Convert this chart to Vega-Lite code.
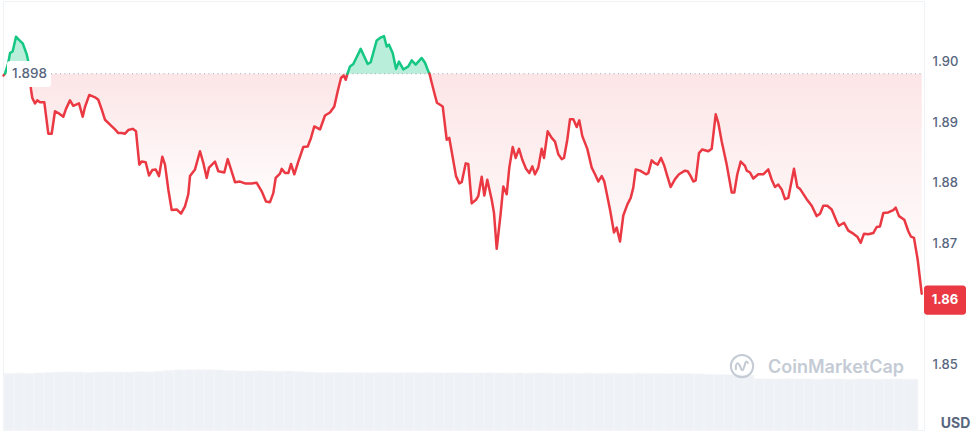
{
  "$schema": "https://vega.github.io/schema/vega-lite/v6.json",
  "width": 921,
  "height": 429,
  "autosize": {"type": "none"},
  "padding": {"left": 3, "top": 1, "right": 55, "bottom": 4},
  "background": "white",
  "config": {"view": {"stroke": "#eff2f5", "strokeWidth": 1}, "font": "Inter"},
  "datasets": {
    "price": [
      {"t":3.5,"p":1.8977,"seg":"d0","dir":"down"},{"t":5,"p":1.898,"seg":"d0","dir":"down"},
      {"t":5,"p":1.898,"seg":"u1","dir":"up"},{"t":8.3,"p":1.8998,"seg":"u1","dir":"up"},{"t":10,"p":1.9014,"seg":"u1","dir":"up"},{"t":12.7,"p":1.9017,"seg":"u1","dir":"up"},{"t":16,"p":1.9041,"seg":"u1","dir":"up"},{"t":19,"p":1.9036,"seg":"u1","dir":"up"},{"t":22.7,"p":1.903,"seg":"u1","dir":"up"},{"t":25,"p":1.902,"seg":"u1","dir":"up"},{"t":26.7,"p":1.9012,"seg":"u1","dir":"up"},{"t":28.3,"p":1.9,"seg":"u1","dir":"up"},{"t":29.5,"p":1.898,"seg":"u1","dir":"up"},
      {"t":29.5,"p":1.898,"seg":"d1","dir":"down"},{"t":31,"p":1.8954,"seg":"d1","dir":"down"},{"t":32.3,"p":1.894,"seg":"d1","dir":"down"},{"t":35,"p":1.8931,"seg":"d1","dir":"down"},{"t":37.3,"p":1.8936,"seg":"d1","dir":"down"},{"t":40,"p":1.8933,"seg":"d1","dir":"down"},{"t":44.3,"p":1.8933,"seg":"d1","dir":"down"},{"t":48.3,"p":1.8881,"seg":"d1","dir":"down"},{"t":51.7,"p":1.8881,"seg":"d1","dir":"down"},{"t":55,"p":1.8918,"seg":"d1","dir":"down"},{"t":58.3,"p":1.8915,"seg":"d1","dir":"down"},{"t":63.3,"p":1.8909,"seg":"d1","dir":"down"},{"t":66,"p":1.8922,"seg":"d1","dir":"down"},{"t":70,"p":1.8936,"seg":"d1","dir":"down"},{"t":73.3,"p":1.8927,"seg":"d1","dir":"down"},{"t":79,"p":1.8931,"seg":"d1","dir":"down"},{"t":82.7,"p":1.8909,"seg":"d1","dir":"down"},{"t":85,"p":1.8925,"seg":"d1","dir":"down"},{"t":89.3,"p":1.8945,"seg":"d1","dir":"down"},{"t":95,"p":1.8941,"seg":"d1","dir":"down"},{"t":98.3,"p":1.8937,"seg":"d1","dir":"down"},{"t":101.7,"p":1.8921,"seg":"d1","dir":"down"},{"t":105,"p":1.8904,"seg":"d1","dir":"down"},{"t":110,"p":1.8896,"seg":"d1","dir":"down"},{"t":115,"p":1.8888,"seg":"d1","dir":"down"},{"t":118.3,"p":1.8882,"seg":"d1","dir":"down"},{"t":121.7,"p":1.8882,"seg":"d1","dir":"down"},{"t":125,"p":1.8881,"seg":"d1","dir":"down"},{"t":128.3,"p":1.8887,"seg":"d1","dir":"down"},{"t":132.7,"p":1.8889,"seg":"d1","dir":"down"},{"t":136,"p":1.8885,"seg":"d1","dir":"down"},{"t":139.3,"p":1.883,"seg":"d1","dir":"down"},{"t":141.7,"p":1.8835,"seg":"d1","dir":"down"},{"t":145.7,"p":1.8834,"seg":"d1","dir":"down"},{"t":149,"p":1.8812,"seg":"d1","dir":"down"},{"t":152.3,"p":1.8821,"seg":"d1","dir":"down"},{"t":155.7,"p":1.8822,"seg":"d1","dir":"down"},{"t":159,"p":1.8811,"seg":"d1","dir":"down"},{"t":162.3,"p":1.8843,"seg":"d1","dir":"down"},{"t":165,"p":1.883,"seg":"d1","dir":"down"},{"t":168.3,"p":1.8789,"seg":"d1","dir":"down"},{"t":171.7,"p":1.8755,"seg":"d1","dir":"down"},{"t":176.7,"p":1.8756,"seg":"d1","dir":"down"},{"t":181,"p":1.8749,"seg":"d1","dir":"down"},{"t":185,"p":1.8761,"seg":"d1","dir":"down"},{"t":188.3,"p":1.8781,"seg":"d1","dir":"down"},{"t":190,"p":1.8811,"seg":"d1","dir":"down"},{"t":195,"p":1.8822,"seg":"d1","dir":"down"},{"t":200,"p":1.8852,"seg":"d1","dir":"down"},{"t":203.3,"p":1.8833,"seg":"d1","dir":"down"},{"t":206.7,"p":1.8808,"seg":"d1","dir":"down"},{"t":209,"p":1.8825,"seg":"d1","dir":"down"},{"t":215,"p":1.8835,"seg":"d1","dir":"down"},{"t":218.3,"p":1.8819,"seg":"d1","dir":"down"},{"t":224.3,"p":1.8817,"seg":"d1","dir":"down"},{"t":227.7,"p":1.8839,"seg":"d1","dir":"down"},{"t":231,"p":1.8822,"seg":"d1","dir":"down"},{"t":235,"p":1.8801,"seg":"d1","dir":"down"},{"t":240,"p":1.8802,"seg":"d1","dir":"down"},{"t":245,"p":1.8799,"seg":"d1","dir":"down"},{"t":251.7,"p":1.8799,"seg":"d1","dir":"down"},{"t":256.7,"p":1.88,"seg":"d1","dir":"down"},{"t":261.7,"p":1.8786,"seg":"d1","dir":"down"},{"t":266,"p":1.8769,"seg":"d1","dir":"down"},{"t":270,"p":1.8768,"seg":"d1","dir":"down"},{"t":273.3,"p":1.8783,"seg":"d1","dir":"down"},{"t":275.7,"p":1.8808,"seg":"d1","dir":"down"},{"t":280,"p":1.8815,"seg":"d1","dir":"down"},{"t":281.7,"p":1.8823,"seg":"d1","dir":"down"},{"t":285,"p":1.8816,"seg":"d1","dir":"down"},{"t":288.3,"p":1.8816,"seg":"d1","dir":"down"},{"t":291,"p":1.8831,"seg":"d1","dir":"down"},{"t":294.3,"p":1.8814,"seg":"d1","dir":"down"},{"t":298.3,"p":1.8835,"seg":"d1","dir":"down"},{"t":303.3,"p":1.8859,"seg":"d1","dir":"down"},{"t":307.7,"p":1.886,"seg":"d1","dir":"down"},{"t":311,"p":1.8874,"seg":"d1","dir":"down"},{"t":314.3,"p":1.8893,"seg":"d1","dir":"down"},{"t":320,"p":1.8888,"seg":"d1","dir":"down"},{"t":325,"p":1.8911,"seg":"d1","dir":"down"},{"t":330,"p":1.8916,"seg":"d1","dir":"down"},{"t":334.3,"p":1.8926,"seg":"d1","dir":"down"},{"t":337.7,"p":1.8951,"seg":"d1","dir":"down"},{"t":341,"p":1.8973,"seg":"d1","dir":"down"},{"t":343.7,"p":1.8977,"seg":"d1","dir":"down"},{"t":345.7,"p":1.897,"seg":"d1","dir":"down"},{"t":347.5,"p":1.898,"seg":"d1","dir":"down"},
      {"t":347.5,"p":1.898,"seg":"u2","dir":"up"},{"t":350,"p":1.8992,"seg":"u2","dir":"up"},{"t":353.3,"p":1.8996,"seg":"u2","dir":"up"},{"t":360.7,"p":1.9021,"seg":"u2","dir":"up"},{"t":367.7,"p":1.8996,"seg":"u2","dir":"up"},{"t":370.7,"p":1.8999,"seg":"u2","dir":"up"},{"t":376.7,"p":1.9035,"seg":"u2","dir":"up"},{"t":380,"p":1.9039,"seg":"u2","dir":"up"},{"t":384,"p":1.9042,"seg":"u2","dir":"up"},{"t":386.7,"p":1.9025,"seg":"u2","dir":"up"},{"t":389,"p":1.9028,"seg":"u2","dir":"up"},{"t":392.7,"p":1.9014,"seg":"u2","dir":"up"},{"t":396,"p":1.8988,"seg":"u2","dir":"up"},{"t":399,"p":1.9,"seg":"u2","dir":"up"},{"t":403.3,"p":1.8987,"seg":"u2","dir":"up"},{"t":408.3,"p":1.8992,"seg":"u2","dir":"up"},{"t":411.7,"p":1.9002,"seg":"u2","dir":"up"},{"t":415.7,"p":1.8995,"seg":"u2","dir":"up"},{"t":421.7,"p":1.9006,"seg":"u2","dir":"up"},{"t":425,"p":1.8998,"seg":"u2","dir":"up"},{"t":428.5,"p":1.8983,"seg":"u2","dir":"up"},{"t":429.5,"p":1.898,"seg":"u2","dir":"up"},
      {"t":429.5,"p":1.898,"seg":"d2","dir":"down"},{"t":431.7,"p":1.8965,"seg":"d2","dir":"down"},{"t":435,"p":1.8944,"seg":"d2","dir":"down"},{"t":437,"p":1.8932,"seg":"d2","dir":"down"},{"t":442.7,"p":1.8926,"seg":"d2","dir":"down"},{"t":446.7,"p":1.8871,"seg":"d2","dir":"down"},{"t":449.3,"p":1.8874,"seg":"d2","dir":"down"},{"t":456,"p":1.8811,"seg":"d2","dir":"down"},{"t":459.3,"p":1.8799,"seg":"d2","dir":"down"},{"t":461.7,"p":1.8801,"seg":"d2","dir":"down"},{"t":465.7,"p":1.8832,"seg":"d2","dir":"down"},{"t":468.3,"p":1.8831,"seg":"d2","dir":"down"},{"t":471.7,"p":1.8766,"seg":"d2","dir":"down"},{"t":476,"p":1.8772,"seg":"d2","dir":"down"},{"t":478.3,"p":1.8778,"seg":"d2","dir":"down"},{"t":481.7,"p":1.881,"seg":"d2","dir":"down"},{"t":484.3,"p":1.8779,"seg":"d2","dir":"down"},{"t":487.3,"p":1.8805,"seg":"d2","dir":"down"},{"t":491.7,"p":1.8772,"seg":"d2","dir":"down"},{"t":494,"p":1.875,"seg":"d2","dir":"down"},{"t":496.7,"p":1.8691,"seg":"d2","dir":"down"},{"t":500.7,"p":1.875,"seg":"d2","dir":"down"},{"t":503.3,"p":1.8794,"seg":"d2","dir":"down"},{"t":506.7,"p":1.8781,"seg":"d2","dir":"down"},{"t":509.3,"p":1.8825,"seg":"d2","dir":"down"},{"t":512.7,"p":1.8859,"seg":"d2","dir":"down"},{"t":515.7,"p":1.8841,"seg":"d2","dir":"down"},{"t":519,"p":1.8856,"seg":"d2","dir":"down"},{"t":522.3,"p":1.8838,"seg":"d2","dir":"down"},{"t":526,"p":1.8823,"seg":"d2","dir":"down"},{"t":529.3,"p":1.8816,"seg":"d2","dir":"down"},{"t":532.3,"p":1.8827,"seg":"d2","dir":"down"},{"t":535,"p":1.8814,"seg":"d2","dir":"down"},{"t":538.3,"p":1.8825,"seg":"d2","dir":"down"},{"t":541.7,"p":1.8856,"seg":"d2","dir":"down"},{"t":544,"p":1.8841,"seg":"d2","dir":"down"},{"t":547.7,"p":1.8885,"seg":"d2","dir":"down"},{"t":551.7,"p":1.8874,"seg":"d2","dir":"down"},{"t":555,"p":1.8868,"seg":"d2","dir":"down"},{"t":558.3,"p":1.8847,"seg":"d2","dir":"down"},{"t":561.7,"p":1.8839,"seg":"d2","dir":"down"},{"t":564,"p":1.8841,"seg":"d2","dir":"down"},{"t":567.3,"p":1.8871,"seg":"d2","dir":"down"},{"t":570,"p":1.8905,"seg":"d2","dir":"down"},{"t":573.3,"p":1.8905,"seg":"d2","dir":"down"},{"t":576.7,"p":1.8892,"seg":"d2","dir":"down"},{"t":579.3,"p":1.8903,"seg":"d2","dir":"down"},{"t":582.3,"p":1.8877,"seg":"d2","dir":"down"},{"t":587.3,"p":1.8856,"seg":"d2","dir":"down"},{"t":591.7,"p":1.8825,"seg":"d2","dir":"down"},{"t":595,"p":1.8814,"seg":"d2","dir":"down"},{"t":598.3,"p":1.8802,"seg":"d2","dir":"down"},{"t":601.7,"p":1.8811,"seg":"d2","dir":"down"},{"t":604.3,"p":1.8802,"seg":"d2","dir":"down"},{"t":610,"p":1.8756,"seg":"d2","dir":"down"},{"t":614,"p":1.8718,"seg":"d2","dir":"down"},{"t":616.7,"p":1.8726,"seg":"d2","dir":"down"},{"t":620,"p":1.8703,"seg":"d2","dir":"down"},{"t":623.3,"p":1.8746,"seg":"d2","dir":"down"},{"t":627.3,"p":1.8764,"seg":"d2","dir":"down"},{"t":630.7,"p":1.8775,"seg":"d2","dir":"down"},{"t":633.3,"p":1.8792,"seg":"d2","dir":"down"},{"t":635.7,"p":1.8822,"seg":"d2","dir":"down"},{"t":640,"p":1.882,"seg":"d2","dir":"down"},{"t":646,"p":1.8814,"seg":"d2","dir":"down"},{"t":648.3,"p":1.8816,"seg":"d2","dir":"down"},{"t":651.7,"p":1.8837,"seg":"d2","dir":"down"},{"t":654.3,"p":1.8833,"seg":"d2","dir":"down"},{"t":657.7,"p":1.883,"seg":"d2","dir":"down"},{"t":661,"p":1.8841,"seg":"d2","dir":"down"},{"t":664.3,"p":1.8828,"seg":"d2","dir":"down"},{"t":667.3,"p":1.8811,"seg":"d2","dir":"down"},{"t":670.7,"p":1.8793,"seg":"d2","dir":"down"},{"t":675,"p":1.8806,"seg":"d2","dir":"down"},{"t":679,"p":1.8814,"seg":"d2","dir":"down"},{"t":685,"p":1.882,"seg":"d2","dir":"down"},{"t":687.7,"p":1.8819,"seg":"d2","dir":"down"},{"t":690.7,"p":1.8811,"seg":"d2","dir":"down"},{"t":693.3,"p":1.8802,"seg":"d2","dir":"down"},{"t":695.7,"p":1.8804,"seg":"d2","dir":"down"},{"t":699,"p":1.8849,"seg":"d2","dir":"down"},{"t":702.3,"p":1.8855,"seg":"d2","dir":"down"},{"t":708.3,"p":1.8852,"seg":"d2","dir":"down"},{"t":711.7,"p":1.8856,"seg":"d2","dir":"down"},{"t":715.7,"p":1.8913,"seg":"d2","dir":"down"},{"t":718.3,"p":1.8899,"seg":"d2","dir":"down"},{"t":721.7,"p":1.8868,"seg":"d2","dir":"down"},{"t":726.7,"p":1.883,"seg":"d2","dir":"down"},{"t":731.7,"p":1.8784,"seg":"d2","dir":"down"},{"t":734.3,"p":1.8784,"seg":"d2","dir":"down"},{"t":737.3,"p":1.8814,"seg":"d2","dir":"down"},{"t":740.7,"p":1.8835,"seg":"d2","dir":"down"},{"t":745,"p":1.8828,"seg":"d2","dir":"down"},{"t":746.7,"p":1.882,"seg":"d2","dir":"down"},{"t":750,"p":1.8817,"seg":"d2","dir":"down"},{"t":753.3,"p":1.8807,"seg":"d2","dir":"down"},{"t":758.3,"p":1.8814,"seg":"d2","dir":"down"},{"t":763.3,"p":1.8814,"seg":"d2","dir":"down"},{"t":768.3,"p":1.8822,"seg":"d2","dir":"down"},{"t":771.7,"p":1.8805,"seg":"d2","dir":"down"},{"t":775,"p":1.8793,"seg":"d2","dir":"down"},{"t":778.3,"p":1.8797,"seg":"d2","dir":"down"},{"t":781.7,"p":1.8789,"seg":"d2","dir":"down"},{"t":785,"p":1.8773,"seg":"d2","dir":"down"},{"t":788.3,"p":1.8775,"seg":"d2","dir":"down"},{"t":794,"p":1.8823,"seg":"d2","dir":"down"},{"t":797.3,"p":1.8793,"seg":"d2","dir":"down"},{"t":800,"p":1.879,"seg":"d2","dir":"down"},{"t":806.7,"p":1.8773,"seg":"d2","dir":"down"},{"t":811.7,"p":1.8762,"seg":"d2","dir":"down"},{"t":816.7,"p":1.8745,"seg":"d2","dir":"down"},{"t":820,"p":1.8749,"seg":"d2","dir":"down"},{"t":823.3,"p":1.8762,"seg":"d2","dir":"down"},{"t":827.3,"p":1.8762,"seg":"d2","dir":"down"},{"t":831.7,"p":1.8756,"seg":"d2","dir":"down"},{"t":836.7,"p":1.8736,"seg":"d2","dir":"down"},{"t":839,"p":1.8729,"seg":"d2","dir":"down"},{"t":844,"p":1.8734,"seg":"d2","dir":"down"},{"t":848.3,"p":1.8721,"seg":"d2","dir":"down"},{"t":853.3,"p":1.8716,"seg":"d2","dir":"down"},{"t":857.3,"p":1.8711,"seg":"d2","dir":"down"},{"t":860.7,"p":1.8701,"seg":"d2","dir":"down"},{"t":864,"p":1.8716,"seg":"d2","dir":"down"},{"t":868.3,"p":1.8715,"seg":"d2","dir":"down"},{"t":873.3,"p":1.8717,"seg":"d2","dir":"down"},{"t":876.7,"p":1.8727,"seg":"d2","dir":"down"},{"t":880,"p":1.8728,"seg":"d2","dir":"down"},{"t":883.3,"p":1.875,"seg":"d2","dir":"down"},{"t":888.3,"p":1.8751,"seg":"d2","dir":"down"},{"t":893.3,"p":1.8755,"seg":"d2","dir":"down"},{"t":895.7,"p":1.8759,"seg":"d2","dir":"down"},{"t":899,"p":1.8745,"seg":"d2","dir":"down"},{"t":904.3,"p":1.8739,"seg":"d2","dir":"down"},{"t":908.3,"p":1.872,"seg":"d2","dir":"down"},{"t":911,"p":1.8711,"seg":"d2","dir":"down"},{"t":914,"p":1.8709,"seg":"d2","dir":"down"},{"t":917.7,"p":1.8673,"seg":"d2","dir":"down"},{"t":921.7,"p":1.8617,"seg":"d2","dir":"down"}
    ],
    "volume": [
      {"t0":4,"t1":14,"v":13.2},{"t0":14,"t1":24,"v":13.25},{"t0":24,"t1":34,"v":13.2},{"t0":34,"t1":44,"v":13.3},{"t0":44,"t1":54,"v":13.45},{"t0":54,"t1":64,"v":13.5},{"t0":64,"t1":74,"v":13.55},{"t0":74,"t1":84,"v":13.5},{"t0":84,"t1":94,"v":13.45},{"t0":94,"t1":104,"v":13.5},{"t0":104,"t1":114,"v":13.55},{"t0":114,"t1":124,"v":13.5},{"t0":124,"t1":134,"v":13.5},{"t0":134,"t1":144,"v":13.6},{"t0":144,"t1":154,"v":13.55},{"t0":154,"t1":164,"v":13.7},{"t0":164,"t1":174,"v":13.9},{"t0":174,"t1":184,"v":14.0},{"t0":184,"t1":194,"v":14.05},{"t0":194,"t1":204,"v":14.1},{"t0":204,"t1":214,"v":14.05},{"t0":214,"t1":224,"v":14.0},{"t0":224,"t1":234,"v":13.9},{"t0":234,"t1":244,"v":13.8},{"t0":244,"t1":254,"v":13.75},{"t0":254,"t1":264,"v":13.8},{"t0":264,"t1":274,"v":13.75},{"t0":274,"t1":284,"v":13.7},{"t0":284,"t1":294,"v":13.75},{"t0":294,"t1":304,"v":13.65},{"t0":304,"t1":314,"v":13.5},{"t0":314,"t1":324,"v":13.45},{"t0":324,"t1":334,"v":13.4},{"t0":334,"t1":344,"v":13.45},{"t0":344,"t1":354,"v":13.4},{"t0":354,"t1":364,"v":13.4},{"t0":364,"t1":374,"v":13.35},{"t0":374,"t1":384,"v":13.4},{"t0":384,"t1":394,"v":13.4},{"t0":394,"t1":404,"v":13.35},{"t0":404,"t1":414,"v":13.4},{"t0":414,"t1":424,"v":13.35},{"t0":424,"t1":434,"v":13.4},{"t0":434,"t1":444,"v":13.35},{"t0":444,"t1":454,"v":13.3},{"t0":454,"t1":464,"v":13.35},{"t0":464,"t1":474,"v":13.3},{"t0":474,"t1":484,"v":13.3},{"t0":484,"t1":494,"v":13.35},{"t0":494,"t1":504,"v":13.3},{"t0":504,"t1":514,"v":13.25},{"t0":514,"t1":524,"v":13.3},{"t0":524,"t1":534,"v":13.25},{"t0":534,"t1":544,"v":13.3},{"t0":544,"t1":554,"v":13.25},{"t0":554,"t1":564,"v":13.2},{"t0":564,"t1":574,"v":13.25},{"t0":574,"t1":584,"v":13.2},{"t0":584,"t1":594,"v":13.25},{"t0":594,"t1":604,"v":13.2},{"t0":604,"t1":614,"v":13.25},{"t0":614,"t1":624,"v":13.2},{"t0":624,"t1":634,"v":13.2},{"t0":634,"t1":644,"v":13.25},{"t0":644,"t1":654,"v":13.2},{"t0":654,"t1":664,"v":13.2},{"t0":664,"t1":674,"v":13.15},{"t0":674,"t1":684,"v":13.2},{"t0":684,"t1":694,"v":13.15},{"t0":694,"t1":704,"v":13.1},{"t0":704,"t1":714,"v":13.0},{"t0":714,"t1":724,"v":12.95},{"t0":724,"t1":734,"v":12.9},{"t0":734,"t1":744,"v":12.9},{"t0":744,"t1":754,"v":12.8},{"t0":754,"t1":764,"v":11.95},{"t0":764,"t1":774,"v":11.9},{"t0":774,"t1":784,"v":11.9},{"t0":784,"t1":794,"v":11.95},{"t0":794,"t1":804,"v":11.9},{"t0":804,"t1":814,"v":11.9},{"t0":814,"t1":824,"v":11.85},{"t0":824,"t1":834,"v":11.9},{"t0":834,"t1":844,"v":11.9},{"t0":844,"t1":854,"v":11.85},{"t0":854,"t1":864,"v":11.9},{"t0":864,"t1":874,"v":11.9},{"t0":874,"t1":884,"v":11.85},{"t0":884,"t1":894,"v":11.9},{"t0":894,"t1":904,"v":11.9},{"t0":904,"t1":918,"v":11.85}
    ],
    "ann": [
      {"base": 1.898, "base_label": "1.898", "last": 1.86064, "last_label": "1.86", "brand": "CoinMarketCap"}
    ]
  },
  "layer": [
    {
      "data": {"name": "volume"},
      "mark": {"type": "rect", "fill": "#eef1f5", "stroke": "#f7f8fa", "strokeWidth": 0.6},
      "encoding": {
        "x": {"field": "t0", "type": "quantitative", "scale": {"domain": [3, 924], "nice": false, "zero": false}, "axis": null},
        "x2": {"field": "t1"},
        "y": {"field": "v", "type": "quantitative", "scale": {"domain": [0, 100], "nice": false}, "axis": null},
        "y2": {"datum": 0}
      }
    },
    {
      "layer": [
        {
          "data": {"name": "price"},
          "transform": [{"filter": "datum.dir == 'down'"}],
          "mark": {
            "type": "area",
            "fill": {"gradient": "linear", "x1": 0, "y1": 0, "x2": 0, "y2": 1, "stops": [{"offset": 0, "color": "rgba(234,57,67,0.13)"}, {"offset": 1, "color": "rgba(234,57,67,0.0)"}]}
          },
          "encoding": {
            "x": {"field": "t", "type": "quantitative", "scale": {"domain": [3, 924], "nice": false, "zero": false}, "axis": null},
            "y": {
              "field": "p", "type": "quantitative",
              "scale": {"domain": [1.8392, 1.91], "nice": false, "zero": false},
              "axis": {
                "orient": "right", "values": [1.85, 1.86, 1.87, 1.88, 1.89, 1.9, 1.91],
                "labelExpr": "(datum.value > 1.905 || (datum.value > 1.855 && datum.value < 1.865)) ? '' : format(datum.value, '.2f')",
                "domain": false, "ticks": false, "labelPadding": 8,
                "labelFont": "Inter", "labelFontSize": 13, "labelFontWeight": 500, "labelColor": "#58667e",
                "gridColor": "#eff2f5", "gridWidth": 1,
                "title": "USD", "titleAngle": 0, "titleX": 31, "titleY": 422, "titleAlign": "center", "titleBaseline": "middle",
                "titleFont": "Inter", "titleFontSize": 14, "titleFontWeight": 700, "titleColor": "#58667e"
              }
            },
            "y2": {"datum": 1.898},
            "detail": {"field": "seg"}
          }
        },
        {
          "data": {"name": "price"},
          "transform": [{"filter": "datum.dir == 'up'"}],
          "mark": {"type": "area", "fill": "#16c784", "fillOpacity": 0.3},
          "encoding": {
            "x": {"field": "t", "type": "quantitative"},
            "y": {"field": "p", "type": "quantitative"},
            "y2": {"datum": 1.898},
            "detail": {"field": "seg"}
          }
        },
        {
          "data": {"name": "ann"},
          "mark": {"type": "rule", "stroke": "#a1a7bb", "strokeWidth": 1, "strokeDash": [1, 3.5]},
          "encoding": {
            "x": {"datum": 51},
            "x2": {"datum": 924},
            "y": {"field": "base", "type": "quantitative"}
          }
        },
        {
          "data": {"name": "price"},
          "mark": {"type": "line", "strokeWidth": 2.5, "strokeJoin": "round", "strokeCap": "round"},
          "encoding": {
            "x": {"field": "t", "type": "quantitative"},
            "y": {"field": "p", "type": "quantitative"},
            "color": {"field": "dir", "type": "nominal", "scale": {"domain": ["up", "down"], "range": ["#16c784", "#ea3943"]}, "legend": null},
            "detail": {"field": "seg"}
          }
        },
        {
          "data": {"name": "ann"},
          "mark": {"type": "rect", "fill": "white", "cornerRadius": 3},
          "encoding": {
            "x": {"datum": 7},
            "x2": {"datum": 51},
            "y": {"datum": 1.9001},
            "y2": {"datum": 1.8958}
          }
        },
        {
          "data": {"name": "ann"},
          "mark": {"type": "text", "font": "Inter", "fontSize": 13.5, "fontWeight": 500, "color": "#58667e", "align": "center", "baseline": "middle"},
          "encoding": {
            "x": {"datum": 29.5},
            "y": {"field": "base", "type": "quantitative"},
            "text": {"field": "base_label"}
          }
        },
        {
          "data": {"name": "ann"},
          "mark": {"type": "point", "shape": "circle", "filled": false, "stroke": "#c4cbd5", "strokeWidth": 2, "size": 500, "opacity": 1},
          "encoding": {
            "x": {"datum": 742},
            "y": {"datum": 1.84975}
          }
        },
        {
          "data": {"name": "ann"},
          "mark": {"type": "point", "shape": "M -0.55 0.35 L -0.55 -0.05 Q -0.4 -0.45 -0.2 -0.05 L -0.05 0.3 Q 0.1 0.5 0.2 0.05 L 0.3 -0.3 Q 0.45 -0.55 0.55 -0.2", "filled": false, "stroke": "#c4cbd5", "strokeWidth": 2, "size": 500, "opacity": 1},
          "encoding": {
            "x": {"datum": 742},
            "y": {"datum": 1.84975}
          }
        },
        {
          "data": {"name": "ann"},
          "mark": {"type": "text", "font": "Inter", "fontSize": 18, "fontWeight": 600, "color": "#c4cbd5", "align": "left", "baseline": "middle"},
          "encoding": {
            "x": {"datum": 768},
            "y": {"datum": 1.8494},
            "text": {"field": "brand"}
          }
        },
        {
          "data": {"name": "ann"},
          "mark": {"type": "rect", "fill": "#ea3943", "cornerRadius": 3},
          "encoding": {
            "x": {"datum": 924},
            "x2": {"datum": 966},
            "y": {"datum": 1.86303},
            "y2": {"datum": 1.85824}
          }
        },
        {
          "data": {"name": "ann"},
          "mark": {"type": "text", "font": "Inter", "fontSize": 13, "fontWeight": 700, "color": "white", "align": "center", "baseline": "middle"},
          "encoding": {
            "x": {"datum": 945},
            "y": {"field": "last", "type": "quantitative"},
            "text": {"field": "last_label"}
          }
        }
      ]
    }
  ],
  "resolve": {"scale": {"y": "independent"}}
}
